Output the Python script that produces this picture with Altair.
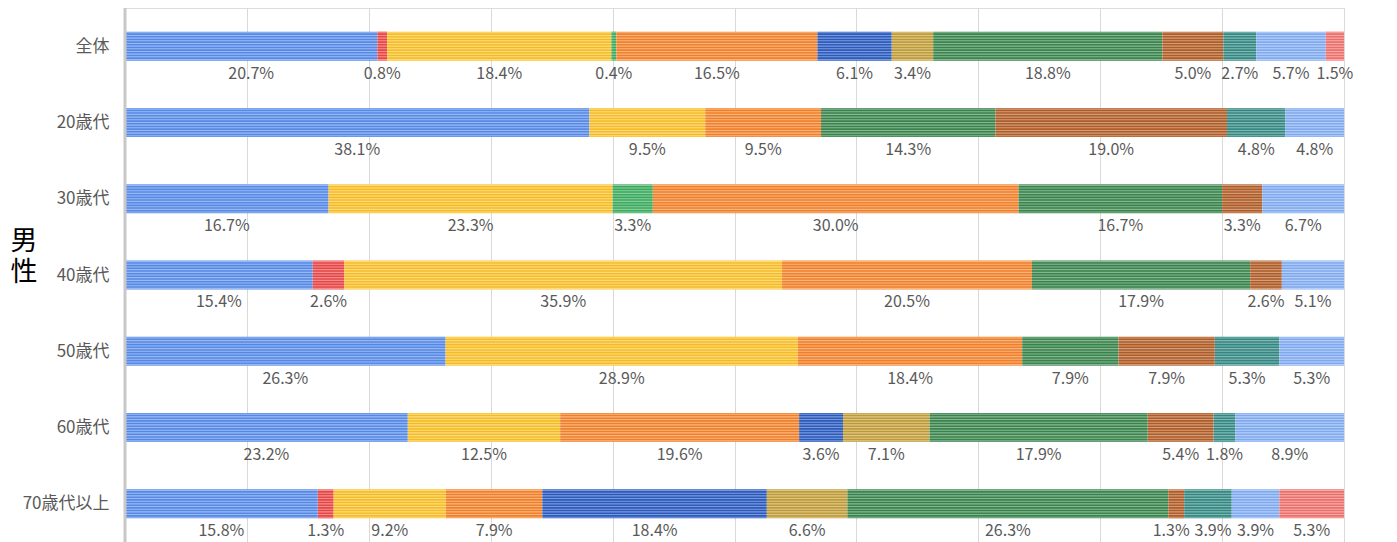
import altair as alt
import pandas as pd

rows = ["全体", "20歳代", "30歳代", "40歳代", "50歳代", "60歳代", "70歳代以上"]

cats = ["c1", "c2", "c3", "c4", "c5", "c6", "c7", "c8", "c9", "c10", "c11", "c12"]
colors = ["#5b8fed", "#ee4a4a", "#fdc42e", "#3fb062", "#f7862f", "#2d5ec4",
          "#c6a23e", "#3d8950", "#b5612a", "#388d87", "#86b0f6", "#f27672"]

c1 = [20.7, 38.1, 16.7, 15.4, 26.3, 23.2, 15.8]
c2 = [0.8, 0, 0, 2.6, 0, 0, 1.3]
c3 = [18.4, 9.5, 23.3, 35.9, 28.9, 12.5, 9.2]
c4 = [0.4, 0, 3.3, 0, 0, 0, 0]
c5 = [16.5, 9.5, 30.0, 20.5, 18.4, 19.6, 7.9]
c6 = [6.1, 0, 0, 0, 0, 3.6, 18.4]
c7 = [3.4, 0, 0, 0, 0, 7.1, 6.6]
c8 = [18.8, 14.3, 16.7, 17.9, 7.9, 17.9, 26.3]
c9 = [5.0, 19.0, 3.3, 2.6, 7.9, 5.4, 1.3]
c10 = [2.7, 4.8, 0, 0, 5.3, 1.8, 3.9]
c11 = [5.7, 4.8, 6.7, 5.1, 5.3, 8.9, 3.9]
c12 = [1.5, 0, 0, 0, 0, 0, 5.3]

series = [c1, c2, c3, c4, c5, c6, c7, c8, c9, c10, c11, c12]

H = 534
W = 1219
FS = 16
px_per_unit = W / 100.0


def label_width_units(txt):
    w = 0.0
    for ch in txt:
        w += 0.27 if ch == "." else (0.87 if ch == "%" else 0.55)
    return w * FS / px_per_unit


recs = []
for i, r in enumerate(rows):
    total = sum(s[i] for s in series)
    acc = 0.0
    row_recs = []
    for cat, s in zip(cats, series):
        v = s[i]
        if v <= 0:
            continue
        x0 = acc / total * 100
        acc += v
        x1 = acc / total * 100
        row_recs.append({"row": r, "idx": i, "cat": cat, "v": v,
                         "x0": x0, "x1": x1, "xm": (x0 + x1) / 2,
                         "y0": i - 0.19, "y1": i + 0.19, "ly": i + 0.36,
                         "label": f"{v:.1f}%"})
    # simple collision avoidance between neighbouring labels
    gap = 6 / px_per_unit
    for _ in range(6):
        for a, b in zip(row_recs[:-1], row_recs[1:]):
            need = (label_width_units(a["label"]) + label_width_units(b["label"])) / 2 + gap
            d = b["xm"] - a["xm"]
            if d < need:
                shift = (need - d) / 2
                a["xm"] -= shift
                b["xm"] += shift
    recs.extend(row_recs)
df = pd.DataFrame(recs)

# decorative stripes (style only)
light, dark = [], []
for i in range(len(rows)):
    k = -0.175
    while k <= 0.176:
        light.append({"ys": i + k})
        if k + 0.0175 < 0.19:
            dark.append({"ys": i + k + 0.0175})
        k += 0.035
ldf = pd.DataFrame(light)
ddf = pd.DataFrame(dark)

yscale = alt.Scale(domain=[-0.5, 6.5], reverse=True, nice=False, zero=False)
xscale = alt.Scale(domain=[0, 100], nice=False)

label_expr = "[" + ",".join(f"'{r}'" for r in rows) + "][datum.value]"

bars = alt.Chart(df).mark_bar(stroke=None).encode(
    x=alt.X("x0:Q", scale=xscale,
            axis=alt.Axis(values=list(range(0, 101, 10)), labels=False, ticks=False,
                          domain=False, grid=True, gridColor="#d9d9d9", title=None)),
    x2="x1:Q",
    y=alt.Y("y0:Q", scale=yscale,
            axis=alt.Axis(values=list(range(len(rows))), labelExpr=label_expr,
                          ticks=False, domain=False, grid=False, title=None,
                          labelFont="Noto Sans CJK JP", labelFontSize=17,
                          labelColor="#595959", labelPadding=16)),
    y2="y1:Q",
    color=alt.Color("cat:N", scale=alt.Scale(domain=cats, range=colors), legend=None),
)

stripe_light = alt.Chart(ldf).mark_rule(color="white", strokeWidth=1.1, opacity=0.38).encode(
    y=alt.Y("ys:Q", scale=yscale),
    x=alt.value(0),
    x2=alt.value(W),
)
stripe_dark = alt.Chart(ddf).mark_rule(color="black", strokeWidth=0.8, opacity=0.07).encode(
    y=alt.Y("ys:Q", scale=yscale),
    x=alt.value(0),
    x2=alt.value(W),
)

labels = alt.Chart(df).mark_text(
    font="Noto Sans CJK JP", fontSize=FS, color="#595959", baseline="middle"
).encode(
    x=alt.X("xm:Q", scale=xscale),
    y=alt.Y("ly:Q", scale=yscale),
    text="label:N",
)

axis_line = alt.Chart(pd.DataFrame({"a": [0]})).mark_rule(color="#c8c8c8", strokeWidth=3).encode(
    x=alt.value(0), y=alt.value(0), y2=alt.value(H)
)

side = alt.Chart(pd.DataFrame({"t": ["男\n性"]})).mark_text(
    font="Noto Sans CJK JP", fontSize=27, color="#000000", lineBreak="\n",
    lineHeight=31, baseline="middle", align="center"
).encode(x=alt.value(-101), y=alt.value(234), text="t:N")

chart = alt.layer(bars, stripe_light, stripe_dark, labels, axis_line, side).properties(
    width=W, height=H,
    padding={"left": 125, "top": 8, "right": 53, "bottom": 0},
    autosize=alt.AutoSizeParams(type="none"),
).configure_view(stroke=None).configure(background="white")

chart.save("out.html", embed_options={"renderer": "svg", "actions": False})
